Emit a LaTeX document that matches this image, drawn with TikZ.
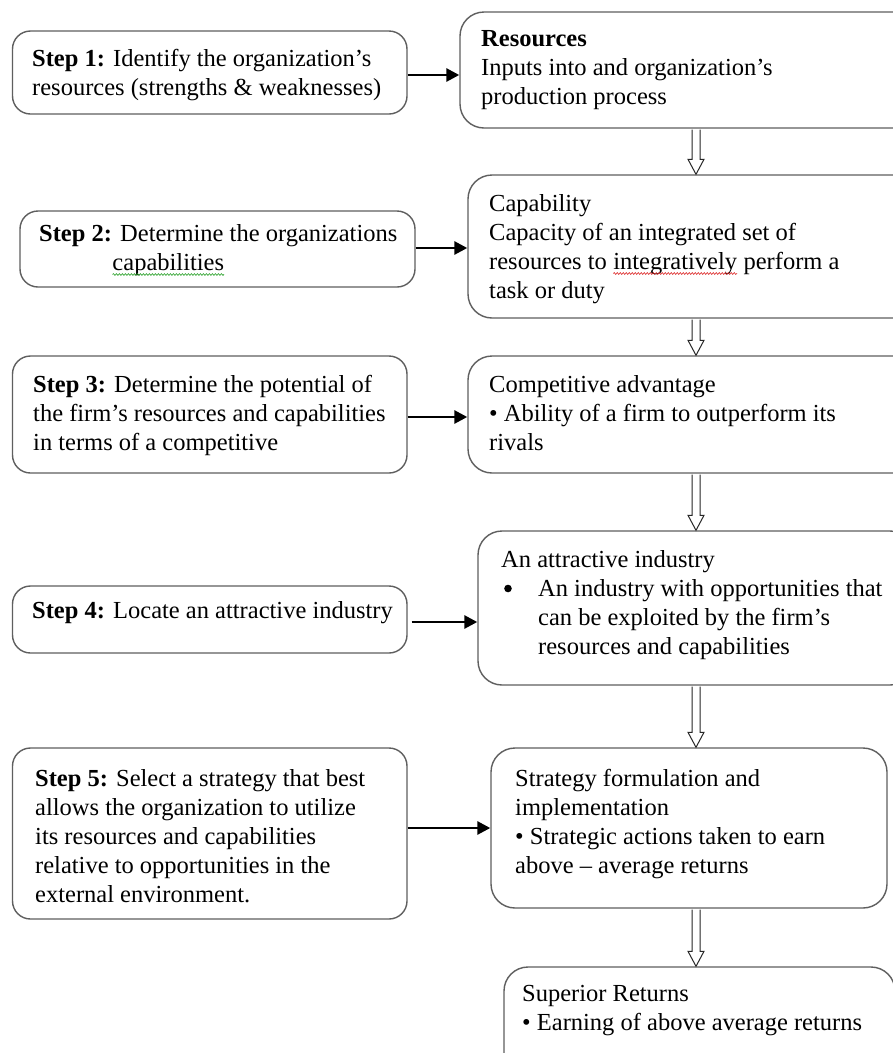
\documentclass[tikz,border=0pt]{standalone}
\usepackage{fontspec}
\setmainfont{Liberation Serif}
\usetikzlibrary{arrows.meta,calc,fit,decorations.pathmorphing}
\definecolor{boxgray}{RGB}{95,95,95}
\definecolor{squigred}{RGB}{220,40,40}
\definecolor{squiggreen}{RGB}{40,160,40}
\newcommand\squig[2]{\tikz[baseline=(w.base)]{\node[inner sep=0pt,outer sep=0pt,anchor=base west,draw=none] (w) at (0,0) {#2};
  \draw[draw=#1, line width=0.6pt, decorate, decoration={snake, amplitude=0.9pt, segment length=3pt}] ([yshift=-4.5pt]w.base west) -- ([yshift=-4.5pt]w.base east);}}
\newcommand\bigbullet{\tikz[baseline=-7.5pt, x=1pt, y=1pt]\fill (0,0) circle[radius=3.8pt];}
\newcommand\hollowdown[2]{%
  \path[hollow] let \p1=(#1.south -| axis), \p2=(#2.north -| axis) in
    (\x1-4pt,\y1-0.8pt) -- (\x1-4pt,\y2+15pt) -- (\x1-8pt,\y2+15pt) -- (\x1,\y2)
    -- (\x1+8pt,\y2+15pt) -- (\x1+4pt,\y2+15pt) -- (\x1+4pt,\y1-0.8pt);}
\begin{document}
\begin{tikzpicture}[x=1pt,y=-1pt,
  box/.style={draw=boxgray, line width=1.4pt, rounded corners=18pt, inner sep=0pt},
  rbox/.style={box, rounded corners=24pt},
  txt/.style={anchor=base west, inner sep=0pt, font=\fontsize{24.5}{29}\selectfont},
  harrow/.style={line width=2.8pt, -{Triangle[length=13pt,width=13pt]}},
  hollow/.style={draw=black!85, line width=1pt, fill=white, line join=miter}]
\useasboundingbox (0,0) rectangle (893,1053);
\fill[white] (0,0) rectangle (893,1053);
\clip (0,0) rectangle (893,1053);
\coordinate (axis) at (696,0);

% left column
\node[box, fit={(12.5,31) (407,114)}] (s1) {};
\node[box, fit={(20,211) (415,287)}] (s2) {};
\node[box, fit={(12.5,356) (407,473)}] (s3) {};
\node[box, fit={(12.5,586) (407,653)}] (s4) {};
\node[box, fit={(12.5,748) (407,919)}] (s5) {};

% right column
\node[rbox, fit={(460,12) (932,128)}] (r1) {};
\node[rbox, fit={(468,175) (924,318)}] (r2) {};
\node[rbox, fit={(468,356) (924,473)}] (r3) {};
\node[rbox, fit={(478,531) (914,685)}] (r4) {};
\node[rbox, fit={(491,748) (887,908)}] (r5) {};
\node[rbox, fit={(504,967) (895,1090)}] (r6) {};

% texts
\node[txt] (s1t) at (32,66) {\begin{tabular}[t]{@{}l@{}}\textbf{Step 1:} Identify the organization’s\\resources (strengths \& weaknesses)\end{tabular}};
\node[txt] (s2t) at (39,241) {\begin{tabular}[t]{@{}l@{}}\textbf{Step 2:} Determine the organizations\\\hspace{73pt}\squig{squiggreen}{capabilities}\end{tabular}};
\node[txt] (s3t) at (33,392) {\begin{tabular}[t]{@{}l@{}}\textbf{Step 3:} Determine the potential of\\the firm’s resources and capabilities\\in terms of a competitive\end{tabular}};
\node[txt] (s4t) at (32,618) {\textbf{Step 4:} Locate an attractive industry};
\node[txt] (s5t) at (35,786) {\begin{tabular}[t]{@{}l@{}}\textbf{Step 5:} Select a strategy that best\\allows the organization to utilize\\its resources and capabilities\\relative to opportunities in the\\external environment.\end{tabular}};

\node[txt] (r1t) at (481,46) {\begin{tabular}[t]{@{}l@{}}\textbf{Resources}\\Inputs into and organization’s\\production process\end{tabular}};
\node[txt] (r2t) at (489,211) {\begin{tabular}[t]{@{}l@{}}Capability\\Capacity of an integrated set of\\resources to \squig{squigred}{integratively} perform a\\task or duty\end{tabular}};
\node[txt] (r3t) at (489,392) {\begin{tabular}[t]{@{}l@{}}Competitive advantage\\• Ability of a firm to outperform its\\rivals\end{tabular}};
\node[txt] (r4t) at (501,567) {\begin{tabular}[t]{@{}l@{}}An attractive industry\\\hspace{3pt}\makebox[34pt][l]{\bigbullet}An industry with opportunities that\\\hspace{37pt}can be exploited by the firm’s\\\hspace{37pt}resources and capabilities\end{tabular}};
\node[txt] (r5t) at (515,786) {\begin{tabular}[t]{@{}l@{}}Strategy formulation and\\implementation\\• Strategic actions taken to earn\\above – average returns\end{tabular}};
\node[txt] (r6t) at (522,1001) {\begin{tabular}[t]{@{}l@{}}Superior Returns\\• Earning of above average returns\end{tabular}};

% horizontal arrows
\draw[harrow] ([yshift=-2.5pt]s1.east) -- ([yshift=-2.5pt]s1.east -| r1.west);
\draw[harrow] ([yshift=1pt]s2.east) -- ([yshift=1pt]s2.east -| r2.west);
\draw[harrow] ([yshift=-2.5pt]s3.east) -- ([yshift=-2.5pt]s3.east -| r3.west);
\draw[harrow] ([xshift=4pt,yshift=-2.5pt]s4.east) -- ([yshift=-2.5pt]s4.east -| r4.west);
\draw[harrow] ([yshift=5.5pt]s5.east) -- ([yshift=5.5pt]s5.east -| r5.west);

% hollow down arrows
\hollowdown{r1}{r2}
\hollowdown{r2}{r3}
\hollowdown{r3}{r4}
\hollowdown{r4}{r5}
\hollowdown{r5}{r6}
\end{tikzpicture}
\end{document}
